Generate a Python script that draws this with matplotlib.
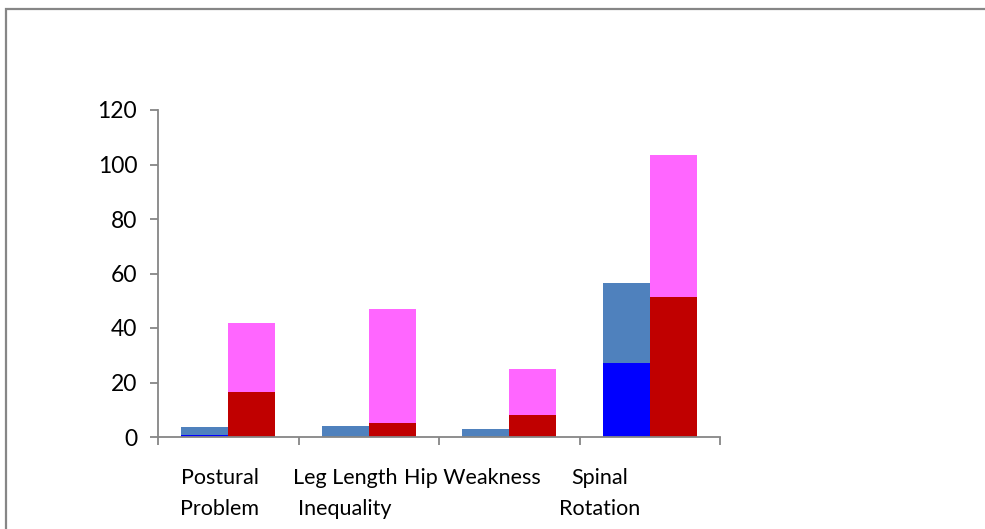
import matplotlib.pyplot as plt
from matplotlib.patches import Rectangle
import numpy as np

plt.rcParams['font.family'] = ['Lato', 'DejaVu Sans']

categories = ['Postural\nProblem', 'Leg Length\nInequality', 'Hip Weakness', 'Spinal\nRotation']
# left stack
blue_low = [0.7, 0.0, 0.0, 27.3]
steel_top = [2.8, 4.1, 2.9, 29.3]
# right stack
red_low = [16.5, 5.1, 8.1, 51.5]
pink_top = [25.3, 41.9, 16.9, 52.0]
# where the category labels sit (they drift left in the original)
label_x = [0.44, 1.33, 2.235, 3.146]

grey = '#868686'

fig = plt.figure(figsize=(9.85, 5.29), dpi=100)
ax = fig.add_axes([158/985, 1-437/529, (720-158)/985, (437-110)/529])

x = np.arange(len(categories)) + 0.5
w = 0.335
ax.bar(x - w/2, blue_low, w, color='#0000FF')
ax.bar(x - w/2, steel_top, w, bottom=blue_low, color='#4F81BD')
ax.bar(x + w/2, red_low, w, color='#C00000')
ax.bar(x + w/2, pink_top, w, bottom=red_low, color='#FF66FF')

ax.set_xlim(0, len(categories))
ax.set_ylim(0, 120)
ax.set_yticks(range(0, 121, 20))
ax.set_xticks(range(len(categories) + 1))
ax.set_xticklabels([])
ax.set_xticks(label_x, minor=True)
ax.set_xticklabels(categories, minor=True, linespacing=1.7)

for s in ['top', 'right']:
    ax.spines[s].set_visible(False)
for s in ['left', 'bottom']:
    ax.spines[s].set_color(grey)
    ax.spines[s].set_linewidth(1.3)

ax.tick_params(axis='both', which='major', direction='out', length=6, width=1.3,
               color=grey, labelsize=16.5, labelcolor='black')
ax.tick_params(axis='y', pad=9)
ax.tick_params(axis='x', which='minor', length=0, pad=22.5, labelsize=15.5)

# outer chart border (cut off at right and bottom)
fig.patches.append(Rectangle((5.5/985, -0.05), 1.1, 1 - 9/529 + 0.05,
                             transform=fig.transFigure, fill=False,
                             edgecolor=grey, linewidth=1.6, clip_on=False))

fig.savefig('out.png', dpi=100)
